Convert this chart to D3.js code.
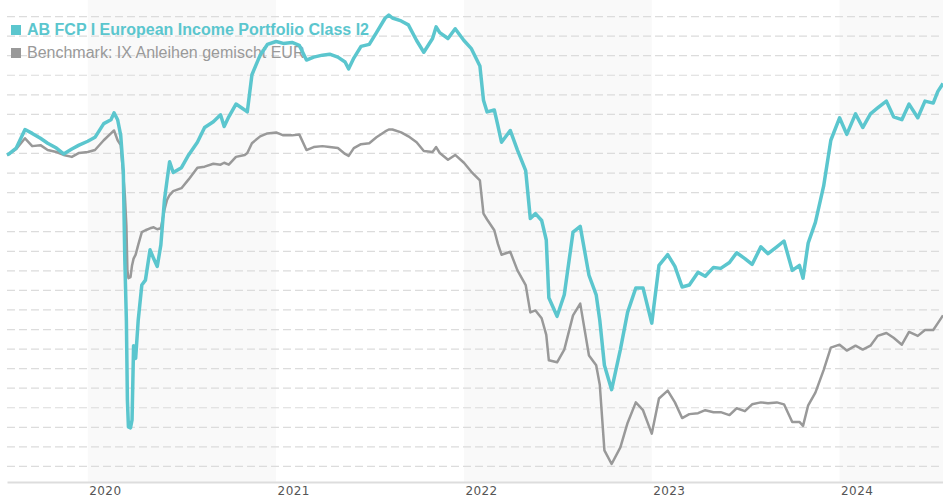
<!DOCTYPE html>
<html>
<head>
<meta charset="utf-8">
<script src="https://cdn.jsdelivr.net/npm/d3@7"></script>
<style>
  body { margin: 0; background: #fff; }
  svg { display: block; font-family: "Liberation Sans", Arial, sans-serif; }
</style>
</head>
<body>
<div id="chart"></div>
<script>
// Series names
const fundName = "AB FCP I European Income Portfolio Class I2";
const benchName = "Benchmark: IX Anleihen gemischt EUR";

// Dates
const dates = [
  "2019-07-28","2019-08-01","2019-08-15","2019-09-01","2019-09-15","2019-10-01","2019-10-15","2019-11-01","2019-11-15","2019-12-01","2019-12-15",
  "2020-01-01","2020-01-15","2020-02-01","2020-02-15","2020-02-21","2020-02-28","2020-03-05","2020-03-10","2020-03-13","2020-03-16","2020-03-18","2020-03-20","2020-03-24","2020-03-27","2020-03-30",
  "2020-04-03","2020-04-08","2020-04-15","2020-04-22","2020-05-01","2020-05-08","2020-05-15","2020-05-22","2020-05-29","2020-06-03","2020-06-08","2020-06-15",
  "2020-07-01","2020-07-15","2020-08-01","2020-08-15","2020-09-01","2020-09-15","2020-09-22","2020-10-01","2020-10-15","2020-11-01","2020-11-06","2020-11-15","2020-12-01","2020-12-15",
  "2021-01-01","2021-01-15","2021-02-01","2021-02-15","2021-03-01","2021-03-15","2021-04-01","2021-04-15","2021-05-01","2021-05-15","2021-05-22","2021-06-01","2021-06-15",
  "2021-07-01","2021-07-15","2021-08-01","2021-08-08","2021-08-15","2021-09-01","2021-09-15","2021-10-01","2021-10-15","2021-11-01","2021-11-08","2021-11-15","2021-12-01","2021-12-15",
  "2022-01-01","2022-01-15","2022-02-01","2022-02-08","2022-02-15","2022-03-01","2022-03-08","2022-03-15","2022-04-01","2022-04-15","2022-05-01","2022-05-10","2022-05-20",
  "2022-06-01","2022-06-10","2022-06-15","2022-07-01","2022-07-15","2022-08-01","2022-08-15","2022-09-01","2022-09-15","2022-09-22","2022-10-01","2022-10-15","2022-11-01","2022-11-15","2022-12-01","2022-12-15",
  "2023-01-01","2023-01-15","2023-02-01","2023-02-15","2023-03-01","2023-03-15","2023-04-01","2023-04-15","2023-05-01","2023-05-15","2023-06-01","2023-06-15",
  "2023-07-01","2023-07-15","2023-08-01","2023-08-15","2023-09-01","2023-09-15","2023-10-01","2023-10-15","2023-10-22","2023-11-01","2023-11-15","2023-12-01","2023-12-15",
  "2024-01-01","2024-01-15","2024-02-01","2024-02-15","2024-03-01","2024-03-15","2024-04-01","2024-04-15","2024-05-01","2024-05-15","2024-06-01","2024-06-15","2024-07-01","2024-07-10","2024-07-20"
];

// Fund (indexed)
const fundValues = [
  99.8,99.9,100.5,102.4,102.0,101.5,101.0,100.5,99.9,100.4,100.8,
  101.2,101.6,103.0,103.4,104.1,103.4,101.8,98.2,89.0,82.9,74.7,72.0,71.9,72.7,80.3,
  79.0,82.9,86.5,87.0,90.1,89.2,88.4,90.6,95.2,97.2,99.1,98.0,
  98.5,99.8,101.1,102.6,103.2,103.9,102.7,103.7,105.0,104.4,104.2,108.0,110.0,111.1,
  111.4,111.2,111.3,111.0,109.5,109.8,110.0,110.1,109.8,109.3,108.6,109.7,110.9,
  111.1,112.3,113.8,114.1,113.8,113.5,113.1,111.5,110.3,111.7,112.9,112.3,111.7,112.7,
  111.5,110.7,108.9,105.4,104.2,104.4,102.8,101.1,102.3,100.3,98.2,93.3,93.8,
  93.1,91.1,85.2,83.3,85.5,91.9,92.5,87.5,85.5,82.9,78.3,75.8,79.9,83.7,86.2,86.2,
  82.6,88.5,89.6,88.4,86.3,86.5,87.8,87.4,88.3,88.2,88.8,89.8,
  89.2,88.6,90.4,89.7,90.4,91.0,88.0,88.5,87.2,90.8,92.9,96.6,101.3,
  103.6,101.9,104.0,102.6,104.0,104.6,105.3,103.7,103.4,105.0,103.6,105.3,105.1,106.3,107.1
];

// Benchmark (indexed)
const benchValues = [
  99.8,99.9,100.4,101.5,100.7,100.8,100.3,100.1,99.8,99.6,100.0,
  100.1,100.3,101.3,102.0,102.3,101.3,100.8,97.7,95.7,92.6,88.0,87.2,87.3,88.5,89.2,
  89.6,90.6,91.9,92.1,92.3,92.4,92.2,92.3,94.2,95.2,95.7,96.1,
  96.4,97.3,98.5,98.6,98.9,98.8,99.0,98.8,99.6,99.8,100.0,101.0,101.7,102.0,
  102.1,101.8,101.8,101.9,100.3,100.6,100.7,100.6,100.5,99.9,99.7,100.5,100.9,
  101.0,101.6,102.2,102.4,102.4,102.1,101.7,101.1,100.2,100.1,100.6,100.0,99.3,99.8,
  99.0,98.1,97.2,93.8,93.2,92.1,90.7,89.6,89.9,88.0,86.5,83.7,83.9,
  83.1,81.4,78.8,78.6,79.9,83.4,84.6,79.3,78.3,76.3,69.6,68.2,69.9,72.4,74.5,73.7,
  71.3,74.9,75.7,74.5,72.9,73.3,73.4,73.7,73.5,73.5,73.2,73.9,
  73.6,74.3,74.5,74.4,74.5,74.3,72.5,72.5,72.1,74.2,75.5,77.8,80.1,
  80.4,79.8,80.3,79.9,80.3,81.3,81.6,81.1,80.4,81.7,81.3,81.9,81.9,82.6,83.4
];

// Grid values and x-axis years
const gridValues = d3.range(68, 115, 2);
const yearLabels = ["2020", "2021", "2022", "2023", "2024"];
const shadedYears = ["2020", "2022", "2024"];

const width = 943, height = 500;
const plotTop = 0, plotBottom = 482, plotLeft = 7, plotRight = 943;

const teal = "#5bc6ce";
const grey = "#999999";

const parse = d3.timeParse("%Y-%m-%d");
const fund = dates.map((d, i) => ({ date: parse(d), value: fundValues[i] }));
const bench = dates.map((d, i) => ({ date: parse(d), value: benchValues[i] }));

const x = d3.scaleTime()
    .domain(d3.extent(fund, d => d.date))
    .range([plotLeft, plotRight]);

const y = d3.scaleLinear()
    .domain([66.36, 115.64])
    .range([plotBottom, plotTop]);

const svg = d3.select("#chart")
    .append("svg")
    .attr("width", width)
    .attr("height", height);

// Alternating year bands
svg.append("g")
    .selectAll("rect")
    .data(shadedYears)
    .join("rect")
    .attr("x", d => x(parse(d + "-01-01")))
    .attr("y", plotTop)
    .attr("width", d => Math.min(plotRight, x(parse((+d + 1) + "-01-01"))) - x(parse(d + "-01-01")))
    .attr("height", plotBottom - plotTop)
    .attr("fill", "#f9f9f9");

// Dashed gridlines
svg.append("g")
    .attr("transform", `translate(${plotLeft},0)`)
    .call(d3.axisLeft(y).tickValues(gridValues).tickSize(-(plotRight - plotLeft)).tickFormat(""))
    .call(g => g.select(".domain").remove())
    .call(g => g.selectAll(".tick line")
        .attr("stroke", "#dcdcdc")
        .attr("stroke-width", 1.2)
        .attr("stroke-dasharray", "8,4"));

// X axis
svg.append("g")
    .attr("transform", `translate(0,${plotBottom})`)
    .call(d3.axisBottom(x)
        .tickValues(yearLabels.map(d => parse(d + "-01-01")))
        .tickSize(0)
        .tickFormat(d3.timeFormat("%Y")))
    .call(g => g.select(".domain").attr("stroke", "#dddddd").attr("stroke-width", 2))
    .call(g => g.selectAll(".tick text")
        .attr("text-anchor", "start")
        .attr("x", 1)
        .attr("y", 4)
        .attr("dy", "0.71em")
        .style("font-family", "'DejaVu Sans', sans-serif")
        .style("font-size", "12px")
        .style("letter-spacing", "0.4px")
        .attr("fill", "#555"));

// Legend
const legend = svg.append("g");
const legendItems = [
    { name: fundName, color: teal, weight: "bold", y: 35 },
    { name: benchName, color: grey, weight: "normal", y: 58 }
];
legend.selectAll("rect")
    .data(legendItems)
    .join("rect")
    .attr("x", 11)
    .attr("y", d => d.y - 10)
    .attr("width", 10)
    .attr("height", 10)
    .attr("fill", d => d.color);
legend.selectAll("text")
    .data(legendItems)
    .join("text")
    .attr("x", 27)
    .attr("y", d => d.y)
    .attr("fill", d => d.color)
    .style("font-size", "16px")
    .style("font-weight", d => d.weight)
    .text(d => d.name);

// Lines
const line = d3.line()
    .x(d => x(d.date))
    .y(d => y(d.value));

svg.append("path")
    .datum(bench)
    .attr("fill", "none")
    .attr("stroke", grey)
    .attr("stroke-width", 2.5)
    .attr("stroke-linejoin", "round")
    .attr("d", line);

svg.append("path")
    .datum(fund)
    .attr("fill", "none")
    .attr("stroke", teal)
    .attr("stroke-width", 3.5)
    .attr("stroke-linejoin", "round")
    .attr("d", line);
</script>
</body>
</html>
